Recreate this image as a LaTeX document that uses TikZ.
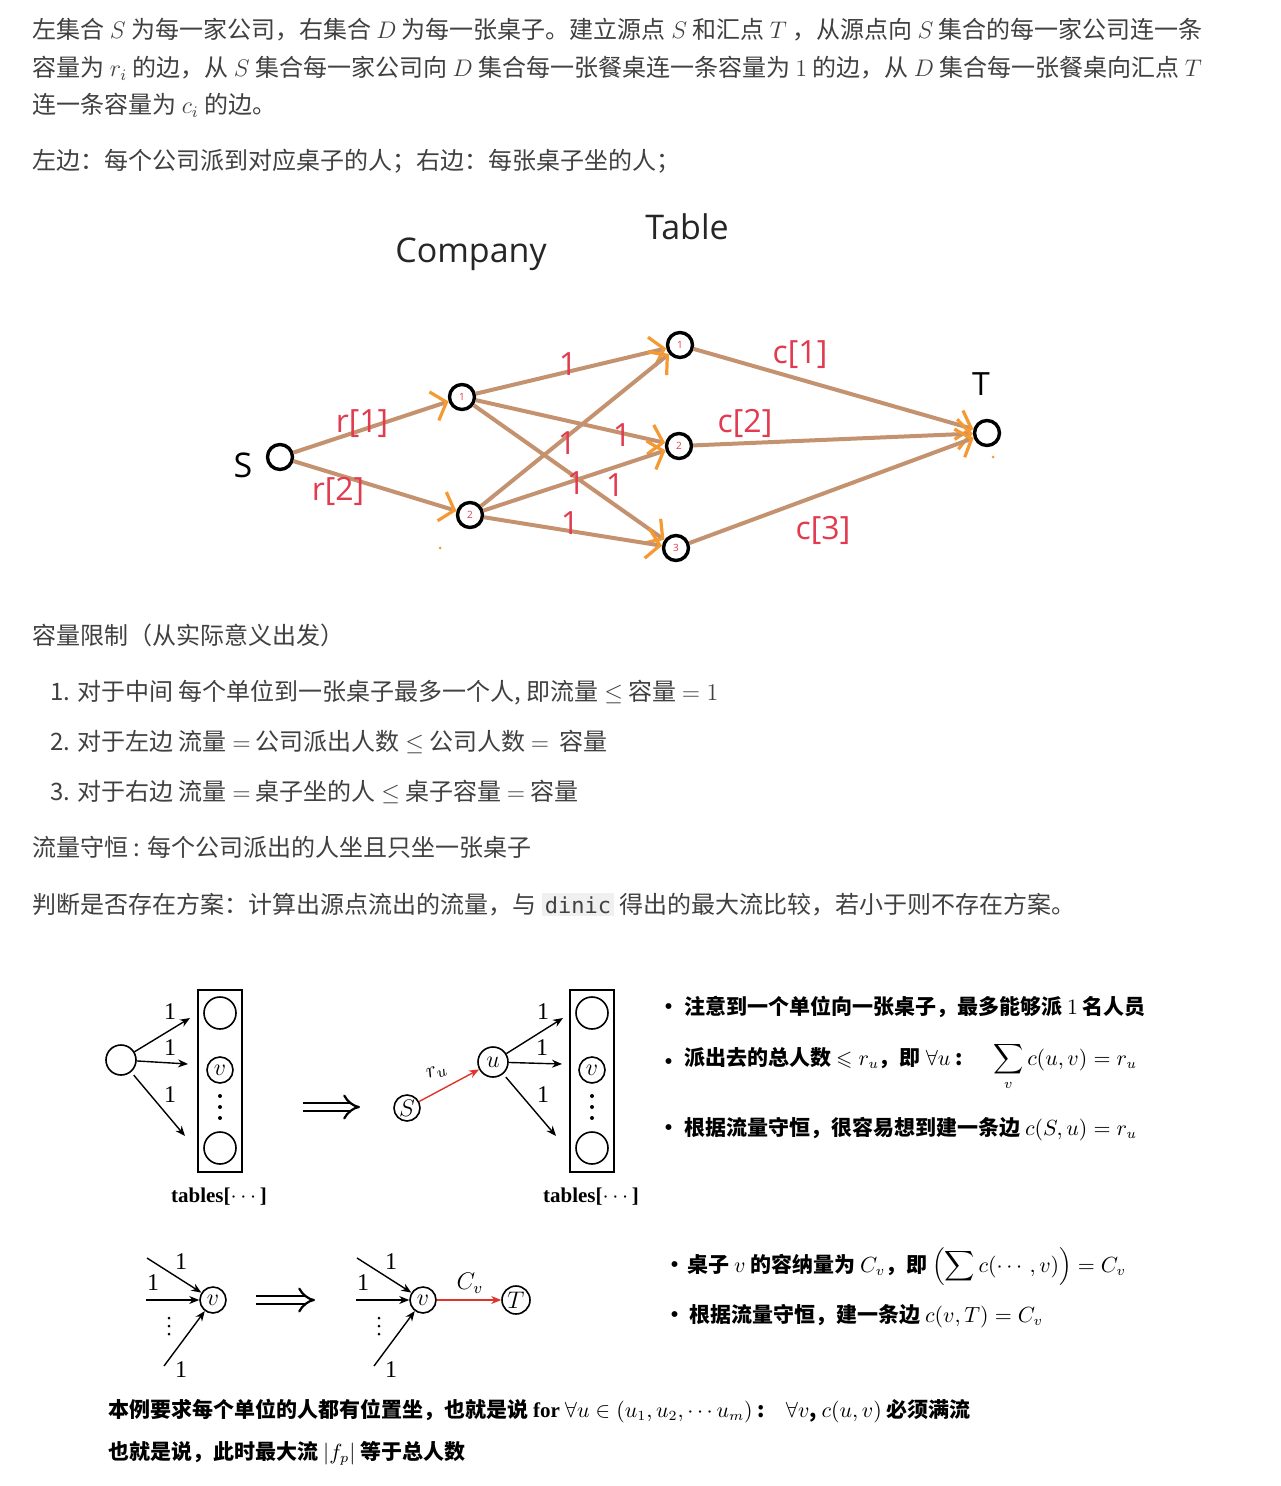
\documentclass[tikz,border=0pt]{standalone}
\usepackage{fontspec}
\usepackage{amsmath,amssymb}
\setmainfont{Noto Sans CJK SC}
\newfontfamily\gfont{Open Sans}
\newfontfamily\lser{Liberation Serif}
\newfontfamily\mono{DejaVu Sans Mono}
\usetikzlibrary{arrows.meta}
\definecolor{txt}{HTML}{404040}
\definecolor{edgeb}{HTML}{C4926F}
\definecolor{lab}{HTML}{E23A4E}
\definecolor{orng}{HTML}{F59A33}
\definecolor{codebg}{HTML}{F0F0F0}
\definecolor{redarr}{HTML}{E0332B}
\tikzset{
  ptxt/.style={font=\fontsize{12}{14}\selectfont, text=txt, inner sep=0pt, anchor=base west},
  btxt/.style={font=\fontsize{10.5}{12}\selectfont\bfseries, text=black, inner sep=0pt, anchor=base west},
  gc/.style={circle, draw=black, line width=1.7pt, minimum size=12.5pt, inner sep=0pt, font=\gfont\fontsize{5}{5}\selectfont, text=lab},
  glab/.style={font=\gfont\fontsize{16}{16}\selectfont, text=lab, inner sep=0pt},
  gtitle/.style={font=\gfont\fontsize{17}{17}\selectfont, text=black!85, inner sep=0pt},
  ge/.style={draw=edgeb, line width=2pt, -{Straight Barb[length=6.5pt, width=15pt, line width=1.6pt, color=orng]}},
  bc/.style={circle, draw=black, line width=0.8pt, inner sep=0pt, font=\fontsize{12}{12}\selectfont},
  barr/.style={line width=0.7pt, -{Stealth[length=5pt, width=4pt]}},
  rarr/.style={line width=0.7pt, draw=redarr, -{Stealth[length=5pt, width=4pt, color=redarr]}},
  num/.style={font=\lser\fontsize{12}{12}\selectfont, inner sep=0pt},
  tbox/.style={draw=black, line width=1pt, minimum width=22pt, minimum height=91pt, inner sep=0pt},
  implarr/.style={line width=1.1pt, double, double distance=3.2pt, -{Implies}}
}
\begin{document}
\begin{tikzpicture}[x=0.5pt, y=-0.5pt]
\useasboundingbox (0,0) rectangle (1280,1486);
\fill[white] (0,0) rectangle (1280,1486);

% ---------- top paragraph ----------
\node[ptxt] (l1) at (32,39) {左集合 $S$ 为每一家公司，右集合 $D$ 为每一张桌子。建立源点 $S$ 和汇点 $T$ ，从源点向 $S$ 集合的每一家公司连一条};
\node[ptxt] (l2) at (32,77) {容量为 $r_i$ 的边，从 $S$ 集合每一家公司向 $D$ 集合每一张餐桌连一条容量为 $1$ 的边，从 $D$ 集合每一张餐桌向汇点 $T$};
\node[ptxt] (l3) at (32,114) {连一条容量为 $c_i$ 的边。};
\node[ptxt] (l4) at (32,170) {左边：每个公司派到对应桌子的人；右边：每张桌子坐的人；};

% ---------- network ----------
\node[gtitle] (company) at (471,254) {Company};
\node[gtitle] (table) at (687,227) {Table};

\node[gc] (S) at (280,457) {};
\node[gc] (c1) at (462,397) {1};
\node[gc] (c2) at (470,515) {2};
\node[gc] (t1) at (680,345) {1};
\node[gc] (t2) at (679,446) {2};
\node[gc] (t3) at (676,548) {3};
\node[gc] (T) at (987,433) {};

\node[font=\gfont\fontsize{17}{17}\selectfont, inner sep=0pt] (sl) at (243,465) {S};
\node[font=\gfont\fontsize{16}{16}\selectfont, inner sep=0pt] (tl) at (981,384) {T};

\draw[ge] (S) -- (c1);
\draw[ge] (S) -- (c2);
\draw[ge] (c1) -- (t1);
\draw[ge] (c1) -- (t2);
\draw[ge] (c1) -- (t3);
\draw[ge] (c2) -- (t1);
\draw[ge] (c2) -- (t2);
\draw[ge] (c2) -- (t3);
\draw[ge] (t1) -- (T);
\draw[ge] (t2) -- (T);
\draw[ge] (t3) -- (T);

\node[glab] (lr1) at (362,424) {r[1]};
\node[glab] (lr2) at (338,491) {r[2]};
\node[glab] (e11) at (568,364) {1};
\node[glab] (e12) at (622,435) {1};
\node[glab] (e21) at (567,443) {1};
\node[glab] (e13) at (576,483) {1};
\node[glab] (e22) at (615,485) {1};
\node[glab] (e23) at (570,523) {1};
\node[glab] (lc1) at (800,355) {c[1]};
\node[glab] (lc2) at (745,423) {c[2]};
\node[glab] (lc3) at (823,530) {c[3]};
\fill[orng] (440,548) circle (1.5);
\fill[orng] (993,457) circle (1.5);

% ---------- middle text ----------
\node[ptxt] (m0) at (32,644) {容量限制（从实际意义出发）};
\node[ptxt] (m1) at (50,700) {1. 对于中间 每个单位到一张桌子最多一个人, 即流量 $\le$ 容量 $=1$};
\node[ptxt] (m2) at (50,750) {2. 对于左边 流量 $=$ 公司派出人数 $\le$ 公司人数 $=$\ \ 容量};
\node[ptxt] (m3) at (50,800) {3. 对于右边 流量 $=$ 桌子坐的人 $\le$ 桌子容量 $=$ 容量};
\node[ptxt] (m4) at (32,856) {流量守恒 : 每个公司派出的人坐且只坐一张桌子};
\node[ptxt] (m5) at (32,913) {判断是否存在方案：计算出源点流出的流量，与 {\setlength{\fboxsep}{1.5pt}\colorbox{codebg}{\mono\fontsize{11}{12}\selectfont dinic}} 得出的最大流比较，若小于则不存在方案。};

% ---------- bottom diagram 1 ----------
\node[bc, minimum size=15pt] (L) at (121,1060) {};
\node[tbox] (box1) at (220,1081) {};
\node[bc, minimum size=16pt] (b1a) at (220,1013) {};
\node[bc, minimum size=13pt] (b1v) at (220,1070) {$v$};
\node[bc, minimum size=16pt] (b1c) at (220,1148) {};
\fill (220,1096) circle (2) (220,1107) circle (2) (220,1118) circle (2);
\coordinate (a1) at (190,1018);
\coordinate (a2) at (188,1064);
\coordinate (a3) at (185,1136);
\draw[barr] (L) -- (a1);
\draw[barr] (L) -- (a2);
\draw[barr, shorten <=2pt] (L) -- (a3);
\node[num] (n1) at (170,1012) {1};
\node[num] (n2) at (170,1048) {1};
\node[num] (n3) at (170,1095) {1};
\node[font=\lser\bfseries\fontsize{10.5}{12}\selectfont, inner sep=0pt] (tab1) at (219,1197) {tables[$\cdots$]};

\coordinate (i1a) at (303,1107);
\coordinate (i1b) at (360,1107);
\draw[implarr] (i1a) -- (i1b);

\node[bc, minimum size=13pt] (S2) at (407,1108) {$S$};
\node[bc, minimum size=15pt] (u) at (493,1062) {$u$};
\draw[rarr] (S2) -- (u);
\node[inner sep=0pt, rotate=20, font=\fontsize{11}{11}\selectfont] (ru) at (437,1072) {$r_u$};
\node[tbox] (box2) at (592,1081) {};
\node[bc, minimum size=16pt] (b2a) at (592,1013) {};
\node[bc, minimum size=13pt] (b2v) at (592,1070) {$v$};
\node[bc, minimum size=16pt] (b2c) at (592,1148) {};
\fill (592,1096) circle (2) (592,1107) circle (2) (592,1118) circle (2);
\coordinate (d1) at (563,1018);
\coordinate (d2) at (562,1064);
\coordinate (d3) at (556,1136);
\draw[barr] (u) -- (d1);
\draw[barr] (u) -- (d2);
\draw[barr, shorten <=2pt] (u) -- (d3);
\node[num] (k1) at (543,1012) {1};
\node[num] (k2) at (542,1048) {1};
\node[num] (k3) at (543,1095) {1};
\node[font=\lser\bfseries\fontsize{10.5}{12}\selectfont, inner sep=0pt] (tab2) at (591,1197) {tables[$\cdots$]};

% bullets 1
\node[btxt] (p1) at (658,1014) {•};
\node[btxt] (q1) at (684,1014) {注意到一个单位向一张桌子，最多能够派 $1$ 名人员};
\node[btxt] (p2) at (658,1069) {•};
\node[btxt] (q2) at (684,1065) {派出去的总人数 $\leqslant r_u$，即 $\forall u$ :\quad\ \ $\displaystyle\sum_v c(u,v)=r_u$};
\node[btxt] (p3) at (658,1135) {•};
\node[btxt] (q3) at (684,1135) {根据流量守恒，很容易想到建一条边 $c(S,u)=r_u$};

% ---------- bottom diagram 2 ----------
\node[bc, minimum size=13pt] (v1) at (213,1300) {$v$};
\coordinate (f1) at (147,1258);
\coordinate (f2) at (146,1300);
\coordinate (f3) at (164,1366);
\draw[barr] (f1) -- (v1);
\draw[barr] (f2) -- (v1);
\draw[barr] (f3) -- (v1);
\node[num] (g1) at (181,1262) {1};
\node[num] (g2) at (153,1283) {1};
\node[num] (g3) at (181,1370) {1};
\fill (169,1318) circle (1.5) (169,1326) circle (1.5) (169,1334) circle (1.5);

\coordinate (i2a) at (256,1300);
\coordinate (i2b) at (315,1300);
\draw[implarr] (i2a) -- (i2b);

\node[bc, minimum size=13pt] (v2) at (423,1300) {$v$};
\coordinate (h1) at (357,1258);
\coordinate (h2) at (356,1300);
\coordinate (h3) at (374,1366);
\draw[barr] (h1) -- (v2);
\draw[barr] (h2) -- (v2);
\draw[barr] (h3) -- (v2);
\node[num] (j1) at (391,1262) {1};
\node[num] (j2) at (363,1283) {1};
\node[num] (j3) at (391,1370) {1};
\fill (379,1318) circle (1.5) (379,1326) circle (1.5) (379,1334) circle (1.5);
\node[bc, minimum size=14pt] (Tb) at (516,1300) {$T$};
\draw[rarr] (v2) -- (Tb);
\node[inner sep=0pt, font=\fontsize{12}{12}\selectfont] (cv) at (470,1283) {$C_v$};

% bullets 2
\node[btxt] (p4) at (664,1272) {•};
\node[btxt] (q4) at (687,1272) {桌子 $v$ 的容纳量为 $C_v$，即 $\displaystyle\left(\sum c(\cdots,v)\right)=C_v$};
\node[btxt] (p5) at (664,1322) {•};
\node[btxt] (q5) at (689,1322) {根据流量守恒，建一条边 $c(v,T)=C_v$};

% final lines
\node[btxt] (z1) at (108,1417) {本例要求每个单位的人都有位置坐，也就是说 {\lser\bfseries for} $\forall u\in(u_1,u_2,\cdots u_m)$ :\quad $\forall v$, $c(u,v)$ 必须满流};
\node[btxt] (z2) at (108,1459) {也就是说，此时最大流 $|f_p|$ 等于总人数};
\end{tikzpicture}
\end{document}
